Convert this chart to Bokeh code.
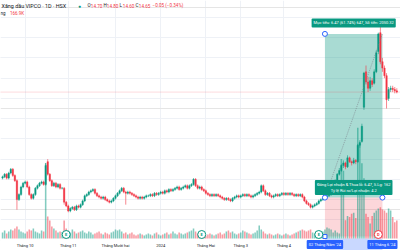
from bokeh.plotting import figure
from bokeh.models import (Range1d, Label, Span, ColumnDataSource,
                          FixedTicker, SingleIntervalTicker, Grid)
from bokeh.embed import file_html
from bokeh.resources import INLINE
from bokeh.core.properties import value

# ---------------- data (daily candles, VPG / HSX) ----------------
opens = [11.25, 11.30, 11.40, 11.25, 11.45, 11.60, 11.35, 11.15, 10.40, 10.60,
         10.90, 11.05, 11.10, 10.90, 10.60, 10.45, 10.60, 10.85, 10.95, 11.05,
         11.10, 11.00, 11.90, 11.40, 11.15, 10.95, 11.05, 10.90, 11.00, 10.85,
         10.85, 10.30, 10.15, 9.95, 10.05, 10.10, 10.00, 10.15, 10.10, 10.20,
         10.35, 10.55, 10.60, 10.70, 10.75, 10.80, 10.65, 10.55, 10.50, 10.45,
         10.50, 10.40, 10.35, 10.30, 10.35, 10.45, 10.55, 10.65, 10.75, 10.85,
         10.70, 10.65, 10.70, 10.65, 10.60, 10.55, 10.50, 10.45, 10.50, 10.45,
         10.50, 10.55, 10.55, 10.60, 10.55, 10.65, 10.60, 10.65, 10.70, 10.65,
         10.75, 10.70, 10.80, 10.75, 10.80, 10.85, 10.90, 10.80, 10.85, 10.90,
         10.95, 10.85, 10.95, 11.00, 11.20, 10.95, 10.85, 10.90, 10.80, 10.75,
         10.65, 10.60, 10.55, 10.60, 10.55, 10.60, 10.55, 10.50, 10.45, 10.40,
         10.45, 10.40, 10.35, 10.45, 10.50, 10.55, 10.50, 10.55, 10.60, 10.55,
         10.60, 10.55, 10.50, 10.55, 10.60, 10.65, 10.70, 10.95, 10.75, 10.60,
         10.65, 10.55, 10.50, 10.55, 10.60, 10.55, 10.60, 10.65, 10.60, 10.65,
         10.60, 10.65, 10.60, 10.55, 10.60, 10.55, 10.60, 10.50, 10.35, 10.25,
         10.20, 10.10, 10.15, 10.20, 10.25, 10.35, 10.40, 10.45, 10.50, 10.55,
         10.60, 10.70, 10.90, 11.15, 11.40, 11.55, 11.75, 11.85, 11.70, 12.05,
         11.90, 11.85, 11.95, 11.90, 12.55, 12.70, 14.05, 15.45, 15.05, 14.80,
         15.10, 15.00, 15.45, 16.25, 17.00, 15.85, 15.60, 15.30, 14.40, 14.75,
         14.80, 14.75, 14.70]
closes = [11.30, 11.40, 11.25, 11.45, 11.60, 11.35, 11.15, 10.40, 10.60, 10.90,
          11.05, 11.10, 10.90, 10.60, 10.45, 10.60, 10.85, 10.95, 11.05, 11.10,
          11.00, 11.75, 11.40, 11.15, 10.95, 11.05, 10.90, 11.00, 10.85, 10.85,
          10.30, 10.15, 9.95, 10.05, 10.10, 10.00, 10.15, 10.10, 10.20, 10.35,
          10.55, 10.60, 10.70, 10.75, 10.80, 10.65, 10.55, 10.50, 10.45, 10.50,
          10.40, 10.35, 10.30, 10.35, 10.45, 10.55, 10.65, 10.75, 10.85, 10.70,
          10.65, 10.70, 10.65, 10.60, 10.55, 10.50, 10.45, 10.50, 10.45, 10.50,
          10.55, 10.55, 10.60, 10.55, 10.65, 10.60, 10.65, 10.70, 10.65, 10.75,
          10.70, 10.80, 10.75, 10.80, 10.85, 10.90, 10.80, 10.85, 10.90, 10.95,
          10.85, 10.95, 11.00, 11.20, 10.95, 10.85, 10.90, 10.80, 10.75, 10.65,
          10.60, 10.55, 10.60, 10.55, 10.60, 10.55, 10.50, 10.45, 10.40, 10.45,
          10.40, 10.35, 10.45, 10.50, 10.55, 10.50, 10.55, 10.60, 10.55, 10.60,
          10.55, 10.50, 10.55, 10.60, 10.65, 10.70, 10.95, 10.75, 10.60, 10.65,
          10.55, 10.50, 10.55, 10.60, 10.55, 10.60, 10.65, 10.60, 10.65, 10.60,
          10.65, 10.60, 10.55, 10.60, 10.55, 10.60, 10.50, 10.35, 10.25, 10.20,
          10.10, 10.15, 10.20, 10.25, 10.35, 10.40, 10.45, 10.50, 10.55, 10.60,
          10.70, 10.90, 11.15, 11.40, 11.55, 11.75, 11.85, 11.70, 12.05, 11.90,
          11.85, 11.95, 11.90, 12.55, 12.65, 13.30, 15.40, 15.05, 14.80, 15.10,
          14.95, 15.45, 16.20, 16.95, 15.85, 15.60, 15.30, 14.35, 14.75, 14.80,
          14.75, 14.70, 14.65]
highs = [11.35, 11.45, 11.45, 11.50, 11.65, 11.65, 11.40, 11.20, 10.65, 10.95,
         11.10, 11.15, 11.15, 10.95, 10.65, 10.65, 10.90, 11.00, 11.10, 11.15,
         11.15, 11.85, 12.00, 11.45, 11.20, 11.10, 11.10, 11.05, 11.05, 10.90,
         10.90, 10.35, 10.20, 10.10, 10.15, 10.15, 10.20, 10.20, 10.25, 10.40,
         10.60, 10.65, 10.75, 10.80, 10.85, 10.85, 10.70, 10.60, 10.55, 10.55,
         10.55, 10.45, 10.40, 10.40, 10.50, 10.60, 10.70, 10.80, 10.90, 10.90,
         10.75, 10.75, 10.75, 10.70, 10.65, 10.60, 10.55, 10.55, 10.55, 10.55,
         10.60, 10.60, 10.65, 10.65, 10.70, 10.70, 10.70, 10.75, 10.75, 10.80,
         10.80, 10.85, 10.85, 10.85, 10.90, 10.95, 10.95, 10.90, 10.95, 11.00,
         11.00, 11.00, 11.05, 11.25, 11.25, 11.00, 10.95, 10.95, 10.85, 10.80,
         10.70, 10.65, 10.65, 10.65, 10.65, 10.65, 10.60, 10.55, 10.50, 10.50,
         10.50, 10.45, 10.50, 10.55, 10.60, 10.60, 10.60, 10.65, 10.65, 10.65,
         10.65, 10.60, 10.60, 10.65, 10.70, 10.75, 11.00, 11.00, 10.80, 10.70,
         10.70, 10.60, 10.60, 10.65, 10.65, 10.65, 10.70, 10.70, 10.70, 10.70,
         10.70, 10.70, 10.65, 10.65, 10.65, 10.65, 10.65, 10.55, 10.40, 10.30,
         10.25, 10.20, 10.25, 10.30, 10.40, 10.45, 10.50, 10.55, 10.60, 10.65,
         10.75, 10.95, 11.20, 11.45, 11.65, 11.80, 11.95, 11.90, 12.15, 12.10,
         11.95, 12.05, 12.00, 12.60, 12.75, 13.40, 15.45, 15.70, 15.25, 15.25,
         15.20, 15.55, 16.30, 17.00, 17.40, 16.00, 15.70, 15.40, 14.85, 14.90,
         14.90, 14.85, 14.80]
lows = [11.20, 11.25, 11.20, 11.20, 11.40, 11.30, 11.10, 10.00, 10.35, 10.55,
        10.85, 11.00, 10.85, 10.55, 10.40, 10.40, 10.55, 10.80, 10.90, 11.00,
        10.95, 10.95, 11.35, 11.10, 10.90, 10.90, 10.85, 10.85, 10.80, 10.80,
        10.20, 10.10, 9.90, 9.90, 10.00, 9.95, 9.95, 10.05, 10.05, 10.15,
        10.30, 10.50, 10.55, 10.65, 10.70, 10.60, 10.50, 10.45, 10.40, 10.40,
        10.35, 10.30, 10.25, 10.25, 10.30, 10.40, 10.50, 10.60, 10.70, 10.65,
        10.20, 10.60, 10.60, 10.55, 10.50, 10.45, 10.40, 10.40, 10.40, 10.40,
        10.45, 10.50, 10.50, 10.50, 10.50, 10.55, 10.55, 10.60, 10.60, 10.60,
        10.65, 10.65, 10.70, 10.70, 10.75, 10.80, 10.75, 10.75, 10.80, 10.85,
        10.80, 10.80, 10.90, 10.95, 10.90, 10.80, 10.80, 10.75, 10.70, 10.60,
        10.55, 10.50, 10.50, 10.50, 10.50, 10.50, 10.45, 10.40, 10.35, 10.35,
        10.35, 10.30, 10.30, 10.40, 10.45, 10.45, 10.45, 10.50, 10.50, 10.50,
        10.50, 10.45, 10.45, 10.50, 10.55, 10.60, 10.65, 10.70, 10.55, 10.55,
        10.50, 10.45, 10.45, 10.50, 10.50, 10.50, 10.55, 10.55, 10.55, 10.55,
        10.55, 10.55, 10.50, 10.50, 10.50, 10.50, 10.45, 10.30, 10.20, 10.15,
        10.05, 10.05, 10.10, 10.15, 10.20, 10.30, 10.35, 10.40, 10.45, 10.50,
        10.55, 10.65, 10.85, 11.10, 11.35, 11.50, 11.65, 11.60, 11.65, 11.85,
        11.75, 11.80, 11.80, 11.85, 12.45, 12.65, 13.95, 14.95, 14.65, 14.70,
        14.85, 14.95, 15.40, 16.15, 15.75, 15.45, 15.20, 14.00, 14.30, 14.65,
        14.65, 14.60, 14.60]
volumes_k = [56, 74, 47, 65, 84, 75, 93, 112, 84, 65,
             56, 47, 65, 84, 74, 93, 65, 56, 47, 74,
             65, 700, 205, 167, 112, 93, 74, 56, 65, 60,
             167, 93, 74, 56, 84, 65, 47, 56, 65, 74,
             56, 47, 65, 56, 37, 47, 56, 65, 47, 37,
             56, 47, 37, 56, 65, 84, 74, 84, 65, 47,
             56, 37, 47, 56, 37, 28, 37, 47, 37, 28,
             37, 47, 37, 28, 47, 56, 37, 28, 37, 47,
             56, 37, 47, 65, 47, 37, 56, 47, 37, 47,
             56, 65, 74, 93, 65, 47, 37, 47, 37, 28,
             37, 47, 37, 28, 37, 47, 56, 37, 47, 65,
             74, 56, 65, 47, 37, 47, 56, 74, 65, 56,
             47, 37, 47, 56, 74, 121, 84, 65, 47, 37,
             47, 37, 28, 37, 47, 37, 28, 37, 47, 37,
             28, 37, 47, 56, 65, 74, 84, 74, 65, 74,
             84, 56, 47, 37, 56, 47, 65, 84, 102, 93,
             84, 56, 74, 56, 47, 740, 630, 170, 210, 200,
             230, 240, 190, 1030, 900, 700, 560, 230, 200, 140,
             210, 240, 260, 280, 290, 270, 260, 240, 280, 260,
             200, 150, 167]

tick_idx = [11, 32, 55, 77, 99, 116, 137]
tick_labels = ["Tháng 10", "Tháng 11", "Tháng Mười hai", "2024",
               "Tháng Hai", "Tháng 3", "Tháng 4"]

event_idx = [31, 97, 154, 183]
event_kind = ["E", "E", "E", "D"]

# long position tool
entry_price = 10.48
target_price = 16.95
stop_price = 8.94
tool_start = 157
tool_end = 185
start_date_label = "02 Tháng Năm '24"
end_date_label = "11 Tháng 6 '24"
target_text = "Mục tiêu: 6.47 (61.74%) 647, Số tiền: 2050.32"
mid_text = "Đóng Lợi nhuận & Thua lỗ: 6.47, S.Lg: 162\nTỷ lệ Rủi ro/Lợi nhuận: 4.2"

# legend header texts
title_text = "Xăng dầu VIPCO · 1D · HSX"
ohlc_parts = [("O", "14.70"), ("H", "14.80"), ("L", "14.60"), ("C", "14.65")]
change_text = "−0.05 (−0.34%)"
vol_name = "ng"
vol_text = "166.9K"

# ---------------- styling ----------------
UP = "#089981"
DN = "#F23645"
BLUE = "#2962FF"
TXT = "#131722"
FONT = "Roboto"

n = len(closes)
assert all(len(a) == n for a in (opens, highs, lows, volumes_k))
idx = list(range(n))
is_up = [c >= o for o, c in zip(opens, closes)]
col = [UP if u else DN for u in is_up]
src = ColumnDataSource(dict(
    x=idx, h=highs, l=lows,
    top=[max(o, c) for o, c in zip(opens, closes)],
    bot=[min(o, c) for o, c in zip(opens, closes)],
    vol=volumes_k, col=col))

# frame covers the whole canvas; the time axis sits at a fixed location inside it
FRAME_H = 250
PX_PER_PRICE = 25.3          # vertical scale of price pane
PX_PER_VOL = 1 / 9.3         # vertical scale of volume (K)
AXIS_PX = 12                 # time-axis strip height
p_top = 18.27
p_bot = p_top - FRAME_H / PX_PER_PRICE
axis_price = p_top - (FRAME_H - AXIS_PX) / PX_PER_PRICE
v_bot = -AXIS_PX / PX_PER_VOL
v_top = (FRAME_H - AXIS_PX) / PX_PER_VOL

p = figure(width=400, height=250, x_range=Range1d(-1, 193.8),
           y_range=Range1d(p_bot, p_top), y_axis_location=None,
           output_backend="svg", toolbar_location=None, min_border=0)
p.extra_y_ranges = {"vol": Range1d(v_bot, v_top)}
p.background_fill_color = "white"
p.border_fill_color = "white"
p.outline_line_color = None

xa = p.xaxis[0]
xa.fixed_location = axis_price
xa.ticker = FixedTicker(ticks=tick_idx)
xa.major_label_overrides = {t: lab for t, lab in zip(tick_idx, tick_labels)}
xa.axis_line_color = None
xa.major_tick_line_color = None
xa.minor_tick_line_color = None
xa.major_tick_out = 0
xa.major_tick_in = 0
xa.minor_tick_out = 0
xa.major_label_text_font_size = "4px"
xa.major_label_text_font = FONT
xa.major_label_text_color = TXT
xa.major_label_standoff = 4
p.xgrid.ticker = FixedTicker(ticks=tick_idx)
p.xgrid.grid_line_color = "#eef1f6"
p.add_layout(Grid(dimension=1, ticker=SingleIntervalTicker(interval=0.8),
                  grid_line_color="#eef1f6"))

# position tool zones
p.quad(left=[tool_start], right=[tool_end], bottom=[entry_price], top=[target_price],
       fill_color=UP, fill_alpha=0.35, line_color=None)
p.quad(left=[tool_start], right=[tool_end], bottom=[stop_price], top=[entry_price],
       fill_color=DN, fill_alpha=0.2, line_color=None)

# time-axis strip background and highlighted range
p.quad(left=[-1], right=[193.8], bottom=[v_bot], top=[0], y_range_name="vol",
       fill_color="white", line_color=None)
p.quad(left=[tool_start], right=[tool_end], bottom=[v_bot], top=[0], y_range_name="vol",
       fill_color=BLUE, fill_alpha=0.25, line_color=None)

# volume
p.vbar(x="x", top="vol", bottom=0, width=0.75, source=src, y_range_name="vol",
       fill_color="col", fill_alpha=0.5, line_color=None)

# candles
p.segment(x0="x", y0="l", x1="x", y1="h", source=src, line_color="col", line_width=0.6)
p.vbar(x="x", top="top", bottom="bot", width=0.7, source=src,
       fill_color="col", line_color="col", line_width=0.4)

# price line
p.add_layout(Span(location=closes[-1], dimension="width", line_color=DN,
                  line_alpha=0.6, line_width=0.6, line_dash="1 1"))

# tool diagonal + handles
p.line(x=[tool_start, tool_end], y=[entry_price, target_price],
       line_color="#787b86", line_width=0.6, line_dash="1 1")
p.scatter(x=[tool_start, tool_start, tool_end], y=[target_price, entry_price, entry_price],
          marker="circle", size=5, fill_color="white", line_color=BLUE, line_width=1)
p.scatter(x=[tool_start], y=[stop_price], marker="square", size=4,
          fill_color="white", line_color=BLUE, line_width=1)

# events
ev_col = [DN if k == "D" else UP for k in event_kind]
ev_y = 4 / PX_PER_VOL
p.scatter(x=event_idx, y=ev_y, y_range_name="vol", marker="circle",
          size=8, fill_color="white", line_color=ev_col, line_width=1)
p.text(x=event_idx, y=ev_y, y_range_name="vol", text=event_kind,
       text_align="center", text_baseline="middle", text_font_size="4px",
       text_font=value(FONT), text_color=ev_col, text_font_style="bold")

mid_x = (tool_start + tool_end) / 2
p.add_layout(Label(x=mid_x, y=target_price, y_offset=11, text=target_text,
                   text_align="center", text_baseline="middle", text_font_size="4px",
                   text_font=FONT, text_color="white", background_fill_color=UP,
                   padding=2, border_radius=1))
p.add_layout(Label(x=mid_x, y=entry_price, y_offset=10, text=mid_text,
                   text_align="center", text_baseline="middle", text_font_size="4px",
                   text_font=FONT, text_color="white", background_fill_color=UP,
                   padding=2, border_radius=1))

# date labels on the time axis
for xv, t in ((tool_start, start_date_label), (tool_end, end_date_label)):
    p.add_layout(Label(x=xv, y=-6 / PX_PER_VOL, y_range_name="vol", text=t,
                       text_align="center", text_baseline="middle",
                       text_font_size="4px", text_font=FONT, text_color="white",
                       background_fill_color=BLUE, padding=2, border_radius=1))

# legend header
def hdr(t, xv, yv, c, size):
    p.add_layout(Label(x=xv, y=yv, x_units="screen", y_units="screen", text=t,
                       text_align="left", text_baseline="middle",
                       text_font_size=size, text_font=FONT, text_color=c))

Y1 = FRAME_H - 5
hdr(title_text, 1, Y1, TXT, "5.4px")
p.add_layout(Label(x=79, y=Y1, x_units="screen", y_units="screen", text="●",
                   text_align="center", text_baseline="middle", text_font_size="5px",
                   text_color=UP))
letter_x = [87, 103, 119, 135]
for (letter, val), lx in zip(ohlc_parts, letter_x):
    hdr(letter, lx, Y1, TXT, "4.6px")
    hdr(val, lx + 3.3, Y1, DN, "4.6px")
hdr(change_text, 152, Y1, DN, "4.6px")
hdr(vol_name, 0, FRAME_H - 12.5, TXT, "4.5px")
hdr(vol_text, 9.5, FRAME_H - 12.5, DN, "4.5px")

open("out.html", "w").write(file_html(p, INLINE))
